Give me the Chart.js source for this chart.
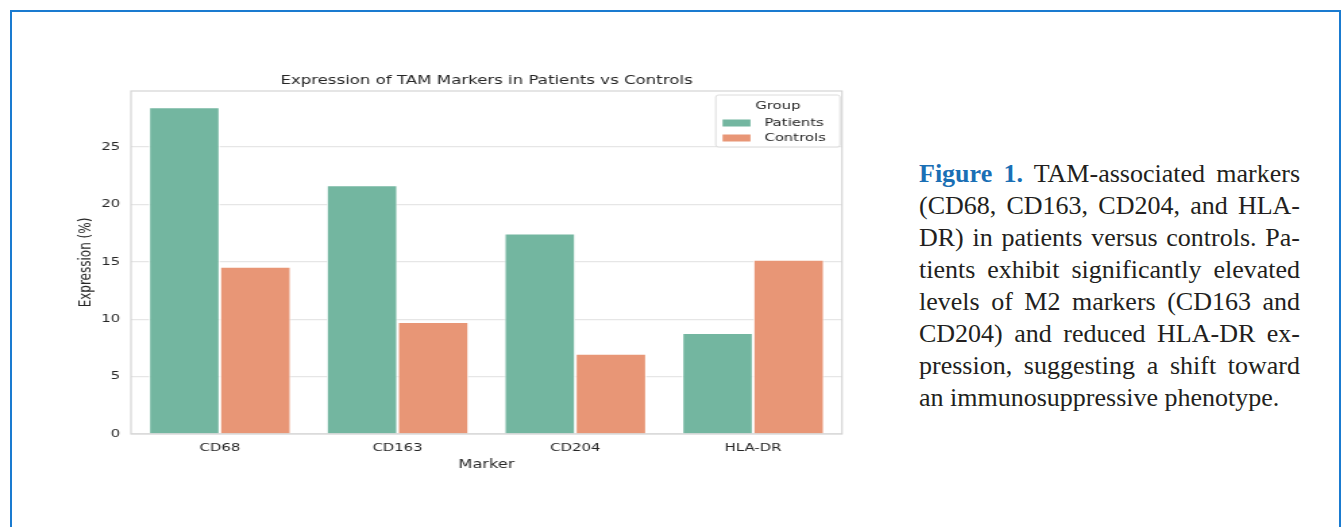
<!DOCTYPE html>
<html>
<head>
<meta charset="utf-8">
<script src="https://cdn.jsdelivr.net/npm/chart.js@4.4.1/dist/chart.umd.min.js"></script>
<style>
    body { margin: 0; width: 1344px; height: 527px; background: #fff; overflow: hidden; position: relative; }
    .frame { position: absolute; left: 10px; top: 10px; width: 1327px; height: 600px; border: 2px solid #1a7bd0; }
    .chart-wrap { position: absolute; left: 0; top: 0; transform: scaleX(1.35); transform-origin: 0 0; }
    #tamChart { width: 650px; height: 480px; display: block; }
    .caption { position: absolute; left: 919px; top: 158px; width: 381px; font-family: 'Liberation Serif', 'Times New Roman', serif; font-size: 26px; line-height: 32px; color: #231f20; }
    .caption div { text-align: justify; text-align-last: justify; white-space: nowrap; }
    .caption div.last { text-align-last: left; }
    .caption b { color: #1a6fb5; }
</style>
</head>
<body>
<div class="frame"></div>
<div class="chart-wrap"><canvas id="tamChart" width="650" height="480"></canvas></div>
<div class="caption">
    <div><b>Figure 1.</b> TAM-associated markers</div>
    <div>(CD68, CD163, CD204, and HLA-</div>
    <div>DR) in patients versus controls. Pa-</div>
    <div>tients exhibit significantly elevated</div>
    <div>levels of M2 markers (CD163 and</div>
    <div>CD204) and reduced HLA-DR ex-</div>
    <div>pression, suggesting a shift toward</div>
    <div class="last">an immunosuppressive phenotype.</div>
</div>
<script>
// data
const markers = ['CD68', 'CD163', 'CD204', 'HLA-DR'];
const patients = [28.45, 21.66, 17.47, 8.79];
const controls = [14.56, 9.76, 6.99, 15.17];
const yTicks = [0, 5, 10, 15, 20, 25];
const chartTitle = 'Expression of TAM Markers in Patients vs Controls';

const GREEN = '#73b6a0';
const ORANGE = '#e89676';
const FONT = "'DejaVu Sans', sans-serif";
const TEXT = '#262626';

// title over the plot, frame around the plot, seaborn style legend
const plotDecor = {
    id: 'plotDecor',
    afterDatasetsDraw(chart) {
        const { ctx, chartArea: a } = chart;
        ctx.save();
        ctx.fillStyle = TEXT;
        ctx.font = '12.3px ' + FONT;
        ctx.textAlign = 'center';
        ctx.textBaseline = 'middle';
        ctx.fillText(chartTitle, (a.left + a.right) / 2, a.top - 10);

        ctx.strokeStyle = '#d4d4d4';
        ctx.lineWidth = 1.2;
        ctx.strokeRect(a.left, a.top, a.right - a.left, a.bottom - a.top);

        // legend box
        const bw = 92, bh = 52;
        const bx = a.right - bw - 1.5, by = a.top + 4;
        ctx.fillStyle = 'rgba(255,255,255,0.85)';
        ctx.strokeStyle = '#dcdcdc';
        ctx.lineWidth = 1;
        ctx.beginPath();
        ctx.roundRect(bx, by, bw, bh, 2);
        ctx.fill();
        ctx.stroke();

        ctx.fillStyle = TEXT;
        ctx.font = '11px ' + FONT;
        ctx.textAlign = 'center';
        ctx.fillText('Group', bx + bw / 2, by + 11.5);
        ctx.textAlign = 'left';
        chart.data.datasets.forEach((ds, i) => {
            const y = by + 28 + i * 15;
            ctx.fillStyle = ds.backgroundColor;
            ctx.fillRect(bx + 5, y - 3.5, 20.7, 7);
            ctx.fillStyle = TEXT;
            ctx.fillText(ds.label, bx + 36, y);
        });
        ctx.restore();
    }
};

const chart = new Chart(document.getElementById('tamChart'), {
    type: 'bar',
    data: {
        labels: markers,
        datasets: [
            { label: 'Patients', data: patients, backgroundColor: GREEN, borderColor: '#ffffff', borderWidth: 1 },
            { label: 'Controls', data: controls, backgroundColor: ORANGE, borderColor: '#ffffff', borderWidth: 1 }
        ]
    },
    options: {
        responsive: false,
        animation: false,
        devicePixelRatio: 1,
        layout: { padding: { left: 0, right: 26.3, top: 91, bottom: 0 } },
        datasets: { bar: { categoryPercentage: 0.8, barPercentage: 1.0 } },
        plugins: {
            legend: { display: false },
            tooltip: { enabled: false },
            title: { display: false }
        },
        scales: {
            x: {
                grid: { display: false, drawTicks: false },
                border: { display: false },
                ticks: { color: TEXT, font: { family: FONT, size: 11 }, padding: 8 },
                title: {
                    display: true, text: 'Marker', color: TEXT,
                    font: { family: FONT, size: 12, lineHeight: 1.2 },
                    padding: { top: 0, bottom: 8 }
                },
                afterFit(scale) { scale.height = 46; }
            },
            y: {
                min: 0,
                max: Math.max(...patients, ...controls) * 1.05,
                afterBuildTicks(scale) { scale.ticks = yTicks.map(v => ({ value: v })); },
                grid: { color: '#e6e6e6', lineWidth: 1.2, drawTicks: false },
                border: { display: false },
                ticks: { color: TEXT, font: { family: FONT, size: 11 }, padding: 8 },
                title: {
                    display: true, text: 'Expression (%)', color: TEXT,
                    font: { family: FONT, size: 12, lineHeight: 1.2 },
                    padding: { top: 56.5, bottom: 0 }
                },
                afterFit(scale) { scale.width = 97; }
            }
        }
    },
    plugins: [plotDecor]
});
</script>
</body>
</html>
